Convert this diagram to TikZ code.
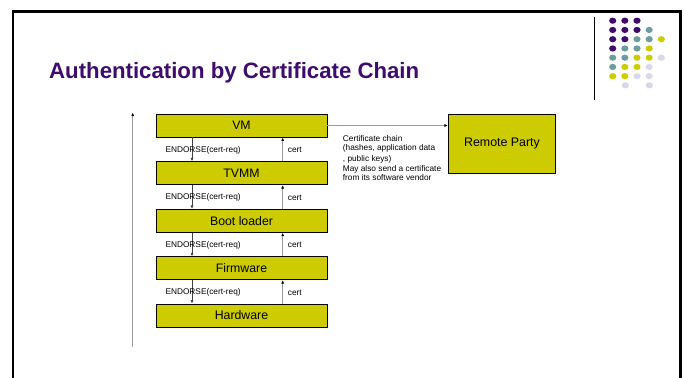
\documentclass[tikz,border=0pt]{standalone}
\usepackage{fontspec}
\setmainfont{Liberation Sans}
\usetikzlibrary{arrows.meta,calc}
\definecolor{boxfill}{HTML}{CCCC00}
\definecolor{titlepurple}{HTML}{3D0C6E}
\definecolor{dotP}{HTML}{3D0C6E}
\definecolor{dotT}{HTML}{6A9E9E}
\definecolor{dotY}{HTML}{CCCC00}
\definecolor{dotL}{HTML}{D8D8EC}
\definecolor{linegray}{HTML}{9A9A9A}
\begin{document}
\begin{tikzpicture}[x=1pt,y=-1pt,
  layer/.style={draw=black, fill=boxfill, line width=0.8pt, minimum width=171pt,
    minimum height=23pt, inner sep=0pt, font=\fontsize{12.3}{14}\selectfont},
  lbl/.style={font=\fontsize{8.3}{10}\selectfont, anchor=west, inner sep=0pt},
  downarrow/.style={draw=black!75, line width=0.6pt, -{Latex[length=3.5pt,width=3pt]}},
  uparrow/.style={draw=linegray, line width=0.8pt, -{Latex[length=3.5pt,width=3pt,color=black]}},
  dot/.style={x radius=3.6pt, y radius=3.1pt}]
\useasboundingbox (0,0) rectangle (684,377);
% slide frame
\draw[line width=2.3pt] (12.8,400) -- (12.8,11.6) -- (680.6,11.6) -- (680.6,400);
\draw[line width=0.9pt] (594.5,17) -- (594.5,100);
% logo dots
\foreach \r/\list in {0/{P,P,P},1/{P,P,P,T},2/{P,P,T,T,Y},3/{P,T,T,Y},4/{T,T,Y,Y,L},5/{T,Y,Y,L},6/{Y,Y,L,L}}{
  \foreach \c [count=\i from 0] in \list {
    \fill[dot\c] (612.7+12.15*\i, 20.7+9.25*\r) ellipse [dot];
  }
}
\fill[dotL] (625.3,85.3) ellipse [dot];
\fill[dotL] (649.3,85.3) ellipse [dot];
% title
\node[anchor=base west, inner sep=0pt, text=titlepurple,
  font=\fontsize{22.2}{26}\selectfont\bfseries] (title) at (49,78.3)
  {Authentication by Certificate Chain};
% layers
\node[layer] (vm) at (241.5,125.5) {VM};
\node[layer] (tvmm) at (241.5,173.2) {TVMM};
\node[layer] (boot) at (241.5,220.8) {Boot loader};
\node[layer] (fw) at (241.5,268.2) {Firmware};
\node[layer] (hw) at (241.5,315.5) {Hardware};
\node[layer, minimum width=107.4pt, minimum height=59.3pt,
  font=\fontsize{12.4}{14}\selectfont] (rp) at (502,143.7) {Remote Party};
% endorse / cert arrows
\foreach \a/\b in {vm/tvmm, tvmm/boot, boot/fw, fw/hw}{
  \draw[downarrow] ([xshift=-49.5pt]\a.south) -- ([xshift=-49.5pt]\b.north);
  \draw[uparrow] ([xshift=41.2pt]\b.north) -- ([xshift=41.2pt]\a.south);
  \node[lbl] (e\a) at ([xshift=-76.2pt,yshift=-0.8pt]$(\a.south)!0.5!(\b.north)$) {ENDORSE(cert-req)};
  \node[lbl] (c\a) at ([xshift=46.2pt,yshift=-0.8pt]$(\a.south)!0.5!(\b.north)$) {cert};
}
% chain arrow to remote party
\draw[uparrow] (vm.east) -- (rp.west |- vm.east);
\node[anchor=north west, inner sep=0pt, align=left,
  font=\fontsize{8.3}{9.5}\selectfont] (note) at (342.7,135)
  {Certificate chain\\(hashes, application data\\[1.6pt], public keys)\\May also send a certificate\\from its software vendor};
% long vertical axis
\coordinate (axisbot) at (132.7,346.7);
\coordinate (axistop) at (132.7,112.5);
\draw[uparrow] (axisbot) -- (axistop);
\end{tikzpicture}
\end{document}
